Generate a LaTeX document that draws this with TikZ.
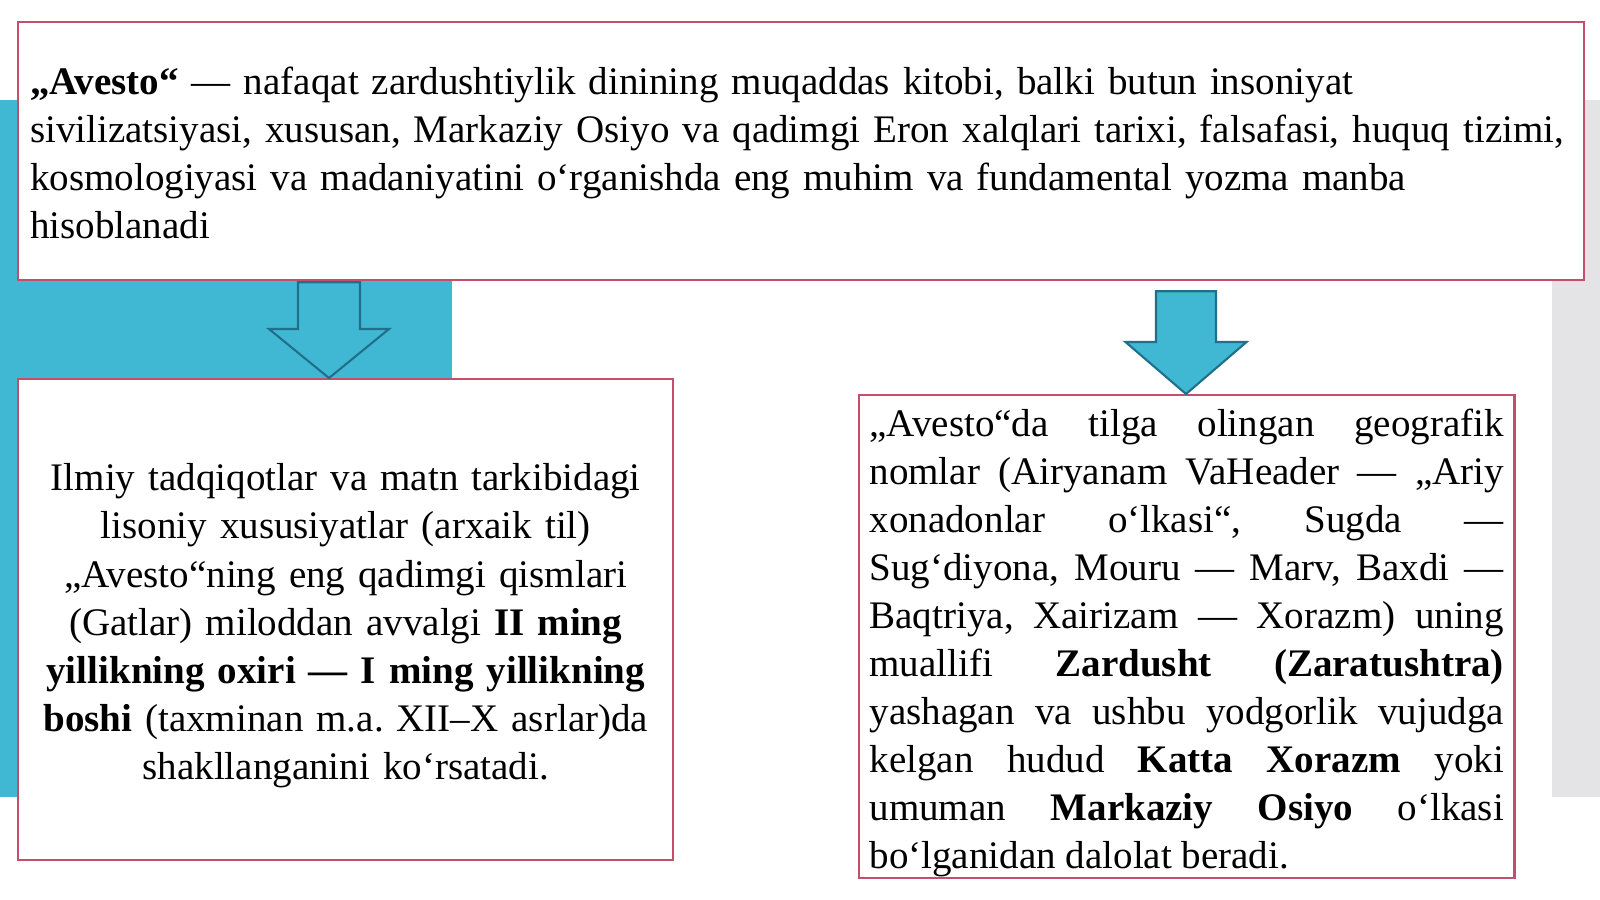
\documentclass[tikz,border=0pt]{standalone}
\usepackage{fontspec}
\setmainfont{Liberation Serif}
\usepackage{tikz}
\usetikzlibrary{calc}
\frenchspacing

\definecolor{slidecyan}{RGB}{64,184,211}
\definecolor{slidegray}{RGB}{228,228,231}
\definecolor{boxborder}{RGB}{196,78,108}
\definecolor{arrowline}{RGB}{32,112,140}

\begin{document}
\begin{tikzpicture}[x=0.01cm,y=-0.01cm,
  every node/.style={font=\fontsize{11.1}{13.66}\selectfont},
  textbox/.style={draw=boxborder, line width=0.6pt, fill=white, inner sep=0pt, anchor=north west},
  boxtext/.style={inner sep=0pt},
  blockarrow/.style={draw=arrowline, fill=slidecyan, line width=0.6pt, line join=miter}]
\useasboundingbox (0,0) rectangle (1600,899);
% background bands
\fill [slidecyan] (0,100) rectangle (452,797);
\fill [slidegray] (1552,100) rectangle (1600,797);
% boxes
\node [textbox, minimum width=15.65cm, minimum height=2.58cm] (top) at (17,21) {};
\node [textbox, minimum width=6.55cm, minimum height=4.81cm] (lbox) at (17,378) {};
\node [textbox, minimum width=6.55cm, minimum height=4.83cm] (rbox) at (858,394) {};
% texts
\node [boxtext, text width=15.41cm, align=left] (toptext) at ([yshift=-0.015cm]top.center)
  {\hyphenpenalty=10000
   \textbf{„Avesto“} — nafaqat zardushtiylik dinining muqaddas kitobi, balki butun insoniyat\\
   sivilizatsiyasi, xususan, Markaziy Osiyo va qadimgi Eron xalqlari tarixi, falsafasi, huquq tizimi,\\
   kosmologiyasi va madaniyatini o‘rganishda eng muhim va fundamental yozma manba\\
   hisoblanadi};
\node [boxtext, text width=6.3cm, align=center] (ltext) at ([yshift=-0.06cm]lbox.center)
  {\hyphenpenalty=10000
   Ilmiy tadqiqotlar va matn tarkibidagi\\
   lisoniy xususiyatlar (arxaik til)\\
   „Avesto“ning eng qadimgi qismlari\\
   (Gatlar) miloddan avvalgi \textbf{II ming}\\
   \textbf{yillikning oxiri — I ming yillikning}\\
   \textbf{boshi} (taxminan m.a. XII–X asrlar)da\\
   shakllanganini ko‘rsatadi.};
\node [boxtext, text width=6.34cm, align=justify] (rtext) at ([yshift=-0.06cm]rbox.center)
  {\hyphenpenalty=10000
   „Avesto“da tilga olingan geografik\linebreak
   nomlar (Airyanam VaHeader — „Ariy\linebreak
   xonadonlar o‘lkasi“, Sugda —\linebreak
   Sug‘diyona, Mouru — Marv, Baxdi —\linebreak
   Baqtriya, Xairizam — Xorazm) uning\linebreak
   muallifi \textbf{Zardusht (Zaratushtra)}\linebreak
   yashagan va ushbu yodgorlik vujudga\linebreak
   kelgan hudud \textbf{Katta Xorazm} yoki\linebreak
   umuman \textbf{Markaziy Osiyo} o‘lkasi\linebreak
   bo‘lganidan dalolat beradi.};
% arrows
\coordinate (la) at (329,0);
\coordinate (ra) at (1186,0);
\draw [blockarrow] let \p1=(top.south -| la), \p2=(lbox.north -| la) in
  (\x1-0.31cm,\y1-0.01cm) -- (\x1+0.31cm,\y1-0.01cm) -- (\x1+0.31cm,\y2+0.49cm) -- (\x1+0.6cm,\y2+0.49cm)
  -- (\p2) -- (\x1-0.6cm,\y2+0.49cm) -- (\x1-0.31cm,\y2+0.49cm) -- cycle;
\draw [blockarrow] let \p1=(top.south -| ra), \p2=(rbox.north -| ra) in
  (\x1-0.3cm,\y1-0.1cm) -- (\x1+0.3cm,\y1-0.1cm) -- (\x1+0.3cm,\y2+0.52cm) -- (\x1+0.605cm,\y2+0.52cm)
  -- (\p2) -- (\x1-0.605cm,\y2+0.52cm) -- (\x1-0.3cm,\y2+0.52cm) -- cycle;
\end{tikzpicture}
\end{document}
